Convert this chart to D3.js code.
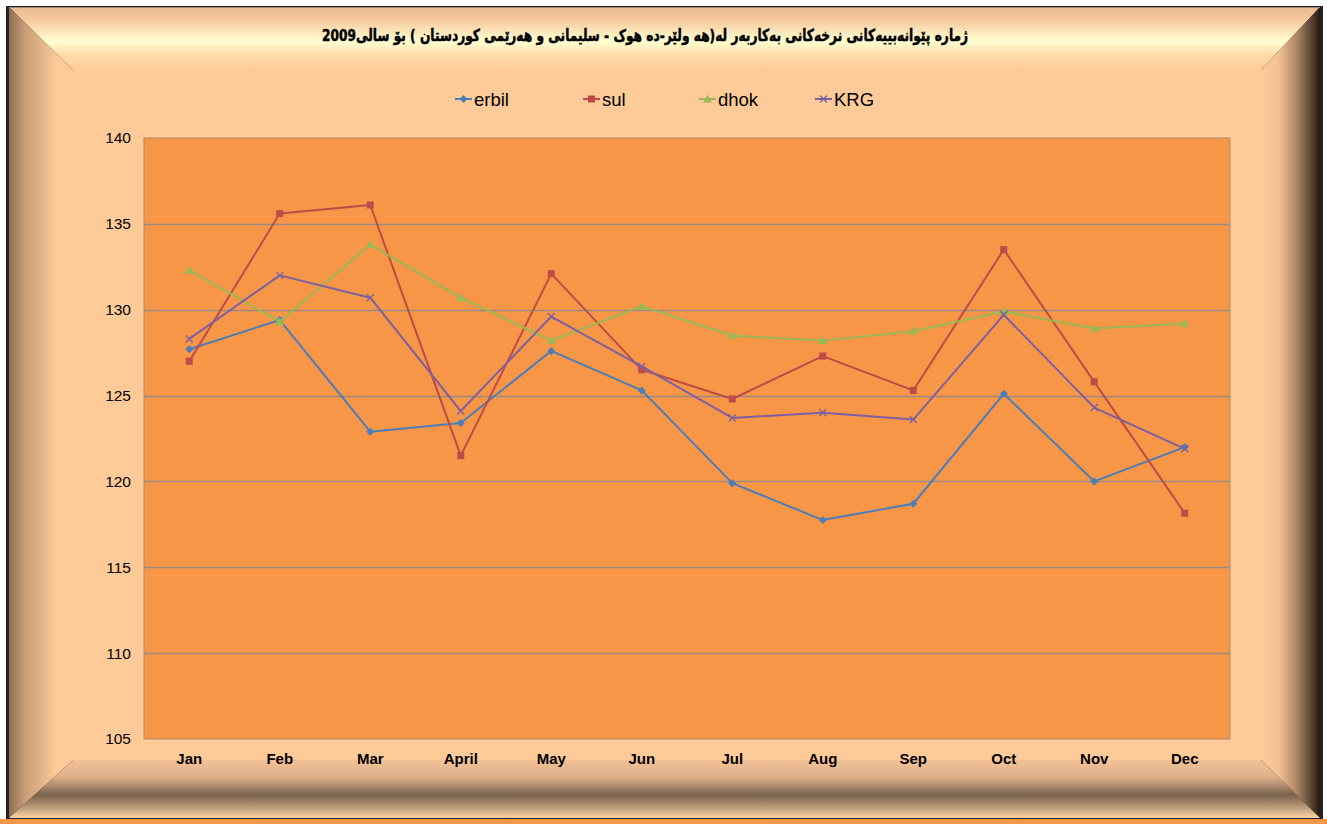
<!DOCTYPE html>
<html><head><meta charset="utf-8">
<script src="https://cdn.jsdelivr.net/npm/d3@7"></script>
<style>body{margin:0;background:#fff}svg{display:block}</style>
</head><body>
<script>
const months = ["Jan","Feb","Mar","April","May","Jun","Jul","Aug","Sep","Oct","Nov","Dec"];
const erbil = [127.7,129.4,122.9,123.4,127.6,125.3,119.9,117.75,118.7,125.1,120.0,122.0];
const sul   = [127.0,135.6,136.1,121.5,132.1,126.5,124.8,127.3,125.3,133.5,125.8,118.15];
const dhok  = [132.3,129.3,133.8,130.7,128.2,130.2,128.5,128.2,128.75,129.9,128.9,129.2];
const krg   = [128.3,132.0,130.7,124.1,129.6,126.7,123.7,124.0,123.6,129.7,124.3,121.9];
const yTicks = [105,110,115,120,125,130,135,140];
const seriesNames = ["erbil","sul","dhok","KRG"];
const title = "ژمارە پێوانەبییەکانی نرخەکانی بەکاربەر لە(هە ولێر-دە هوک - سلیمانی و هەرێمی کوردستان ) بۆ سالی2009";

const W=1327,H=824;
const svg=d3.select("body").append("svg").attr("width",W).attr("height",H);
const defs=svg.append("defs");
function lg(id,x1,y1,x2,y2,stops){const g=defs.append("linearGradient").attr("id",id).attr("x1",x1).attr("y1",y1).attr("x2",x2).attr("y2",y2);stops.forEach(s=>g.append("stop").attr("offset",s[0]).attr("stop-color",s[1]));}
lg("gTop",0,0,0,1,[[0,"#eab88e"],[0.2,"#f7c99d"],[0.55,"#ffffd2"],[0.75,"#ffdcaa"],[1,"#fecb98"]]);
lg("gLeft",0,0,1,0,[[0,"#8e6e52"],[0.25,"#c79c78"],[0.75,"#fecb98"],[1,"#fecb98"]]);
lg("gRight",0,0,1,0,[[0,"#fecb98"],[0.3,"#f1c094"],[0.6,"#b08868"],[0.85,"#5a4532"],[1,"#251a10"]]);
lg("gBottom",0,0,0,1,[[0,"#f3c195"],[0.3,"#dcb08a"],[0.6,"#7a624c"],[0.8,"#b59676"],[1,"#ffd3a8"]]);

const L=9,T=7,R=1320,B=818, iL=73,iT=70,iR=1261,iB=760;
svg.append("rect").attr("x",0).attr("y",0).attr("width",W).attr("height",H).attr("fill","#ffffff");
svg.append("rect").attr("x",L-3).attr("y",T-1).attr("width",R-L+6).attr("height",B-T+6).attr("fill","#222");
svg.append("rect").attr("x",iL).attr("y",iT).attr("width",iR-iL).attr("height",iB-iT).attr("fill","#fecb98");
svg.append("polygon").attr("points",[[L,T],[R,T],[iR,iT],[iL,iT]].join(" ")).attr("fill","url(#gTop)");
svg.append("polygon").attr("points",[[L,T],[iL,iT],[iL,iB],[L,B]].join(" ")).attr("fill","url(#gLeft)");
svg.append("polygon").attr("points",[[R,T],[R,B],[iR,iB],[iR,iT]].join(" ")).attr("fill","url(#gRight)");
svg.append("polygon").attr("points",[[L,B],[iL,iB],[iR,iB],[R,B]].join(" ")).attr("fill","url(#gBottom)");
svg.append("line").attr("x1",L).attr("x2",R).attr("y1",T+0.5).attr("y2",T+0.5).attr("stroke","#a08878");
svg.append("rect").attr("x",0).attr("y",B+1).attr("width",W).attr("height",H-B-1).attr("fill","#f79646");

// title
svg.append("text").attr("transform","translate(645,41) scale(0.74,1)").attr("text-anchor","middle").attr("direction","rtl")
  .attr("font-family","DejaVu Sans").attr("font-weight","bold").attr("font-size",16.5).attr("fill","#000")
  .attr("stroke","#000").attr("stroke-width",0.5).text(title);

const pL=144,pR=1230,pT=138,pB=739;
const x=d3.scaleBand().domain(months).range([pL,pR]);
const y=d3.scaleLinear().domain([105,140]).range([pB,pT]);
svg.append("rect").attr("x",pL).attr("y",pT).attr("width",pR-pL).attr("height",pB-pT).attr("fill","#f79646").attr("stroke","#b08a70").attr("stroke-width",1);
svg.append("g").selectAll("line").data(yTicks.slice(1,-1)).join("line")
  .attr("x1",pL).attr("x2",pR).attr("y1",d=>Math.round(y(d))+0.5).attr("y2",d=>Math.round(y(d))+0.5)
  .attr("stroke","#9a8a80").attr("stroke-width",1.3);

const yAxis=svg.append("g").attr("transform",`translate(${pL},0)`).call(d3.axisLeft(y).tickValues(yTicks).tickSize(0).tickPadding(13));
yAxis.select(".domain").remove();
yAxis.selectAll("text").attr("font-family","Liberation Sans, Arial").attr("font-size",15.5).attr("fill","#000");
const xAxis=svg.append("g").attr("transform",`translate(0,${pB})`).call(d3.axisBottom(x).tickSize(0).tickPadding(14));
xAxis.select(".domain").remove();
xAxis.selectAll("text").attr("font-family","Liberation Sans, Arial").attr("font-size",15).attr("font-weight","bold").attr("fill","#000");

const colors={erbil:"#4a7ebb",sul:"#be4b48",dhok:"#98b954",KRG:"#7d60a0"};
const data={erbil,sul,dhok,KRG:krg};
const cx=d=>x(d)+x.bandwidth()/2;
function marker(g,name,px,py){
  const c=colors[name];
  if(name==="erbil") g.append("path").attr("d",`M${px},${py-4}L${px+4},${py}L${px},${py+4}L${px-4},${py}Z`).attr("fill",c);
  else if(name==="sul") g.append("rect").attr("x",px-3.5).attr("y",py-3.5).attr("width",7).attr("height",7).attr("fill",c);
  else if(name==="dhok") g.append("path").attr("d",`M${px},${py-4.5}L${px+4.5},${py+3.5}L${px-4.5},${py+3.5}Z`).attr("fill",c);
  else g.append("path").attr("d",`M${px-3.5},${py-3.5}L${px+3.5},${py+3.5}M${px+3.5},${py-3.5}L${px-3.5},${py+3.5}`).attr("stroke",c).attr("stroke-width",1.4);
}
const line=d3.line().x((d,i)=>cx(months[i])).y(d=>y(d));
seriesNames.forEach(n=>{
  const g=svg.append("g");
  g.append("path").datum(data[n]).attr("d",line).attr("fill","none").attr("stroke",colors[n]).attr("stroke-width",2).attr("stroke-linejoin","round");
  data[n].forEach((v,i)=>marker(g,n,cx(months[i]),y(v)));
});

// legend
const legX=[455,583,699,815];
seriesNames.forEach((n,i)=>{
  const g=svg.append("g");
  const lx=legX[i], ly=99;
  g.append("line").attr("x1",lx).attr("x2",lx+17).attr("y1",ly).attr("y2",ly).attr("stroke",colors[n]).attr("stroke-width",2);
  marker(g,n,lx+8.5,ly);
  g.append("text").attr("x",lx+19).attr("y",ly+6.5).attr("font-family","Liberation Sans, Arial").attr("font-size",18.5).attr("fill","#000").text(n);
});
</script>
</body></html>
